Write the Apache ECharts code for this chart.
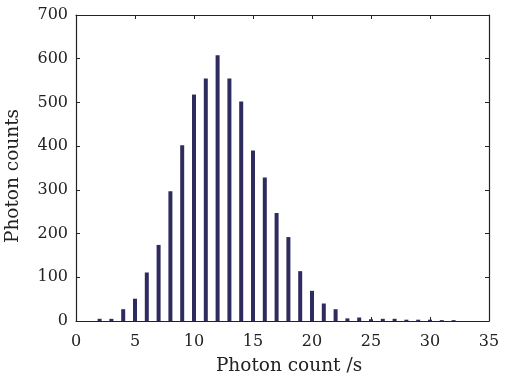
<!DOCTYPE html>
<html>
<head>
<meta charset="utf-8">
<script src="https://cdn.jsdelivr.net/npm/echarts@6/dist/echarts.min.js"></script>
<style>
  html, body { margin: 0; padding: 0; background: #fff; }
  #chart { width: 506px; height: 378px; }
</style>
</head>
<body>
<div id="chart"></div>
<script>
// photon count per second (x) and how often it was seen (y)
const counts = [2, 3, 4, 5, 6, 7, 8, 9, 10, 11, 12, 13, 14, 15, 16, 17,
  18, 19, 20, 21, 22, 23, 24, 25, 26, 27, 28, 29, 30, 31, 32];
const frequency = [5, 5, 27, 51, 111, 174, 297, 402, 518, 555, 608, 555, 502, 390, 328, 247,
  192, 114, 69, 40, 27, 6, 8, 4, 5, 5, 3, 3, 3, 2, 2];
const xTicks = [0, 5, 10, 15, 20, 25, 30, 35];
const yTicks = [0, 100, 200, 300, 400, 500, 600, 700];

const font = 'DejaVu Serif';
const ink = '#222';

const myChart = echarts.init(document.getElementById('chart'));

const frameAxis = {
  axisLine: { show: true, onZero: false, lineStyle: { color: ink, width: 1.2 } },
  axisTick: { show: true, inside: true, length: 4, lineStyle: { color: ink } },
  axisLabel: { show: false },
  splitLine: { show: false }
};

const option = {
  animation: false,
  grid: { left: 76, right: 17, top: 15, bottom: 57, containLabel: false, outerBoundsMode: 'none' },
  xAxis: [
    Object.assign({}, frameAxis, {
      type: 'value',
      min: xTicks[0],
      max: xTicks[xTicks.length - 1],
      interval: 5,
      position: 'bottom',
      name: 'Photon count /s',
      nameLocation: 'middle',
      nameGap: 36,
      nameTextStyle: { fontFamily: font, fontSize: 18.5, color: ink, padding: [0, 0, 0, 13] },
      axisLabel: { show: true, fontFamily: font, fontSize: 16, color: ink, margin: 13 }
    }),
    Object.assign({}, frameAxis, {
      type: 'value', min: 0, max: 35, interval: 5, position: 'top'
    })
  ],
  yAxis: [
    Object.assign({}, frameAxis, {
      type: 'value',
      min: yTicks[0],
      max: yTicks[yTicks.length - 1],
      interval: 100,
      position: 'left',
      name: 'Photon counts',
      nameLocation: 'middle',
      nameGap: 53,
      nameTextStyle: { fontFamily: font, fontSize: 18.5, color: ink, padding: [0, 16, 0, 0] },
      axisLabel: { show: true, fontFamily: font, fontSize: 16, color: ink, margin: 8 }
    }),
    Object.assign({}, frameAxis, {
      type: 'value', min: 0, max: 700, interval: 100, position: 'right'
    })
  ],
  series: [
    {
      type: 'bar',
      xAxisIndex: 0,
      yAxisIndex: 0,
      barWidth: 4,
      itemStyle: { color: '#2e2c5e' },
      data: counts.map((c, i) => [c, frequency[i]])
    }
  ]
};

myChart.setOption(option);
</script>
</body>
</html>
